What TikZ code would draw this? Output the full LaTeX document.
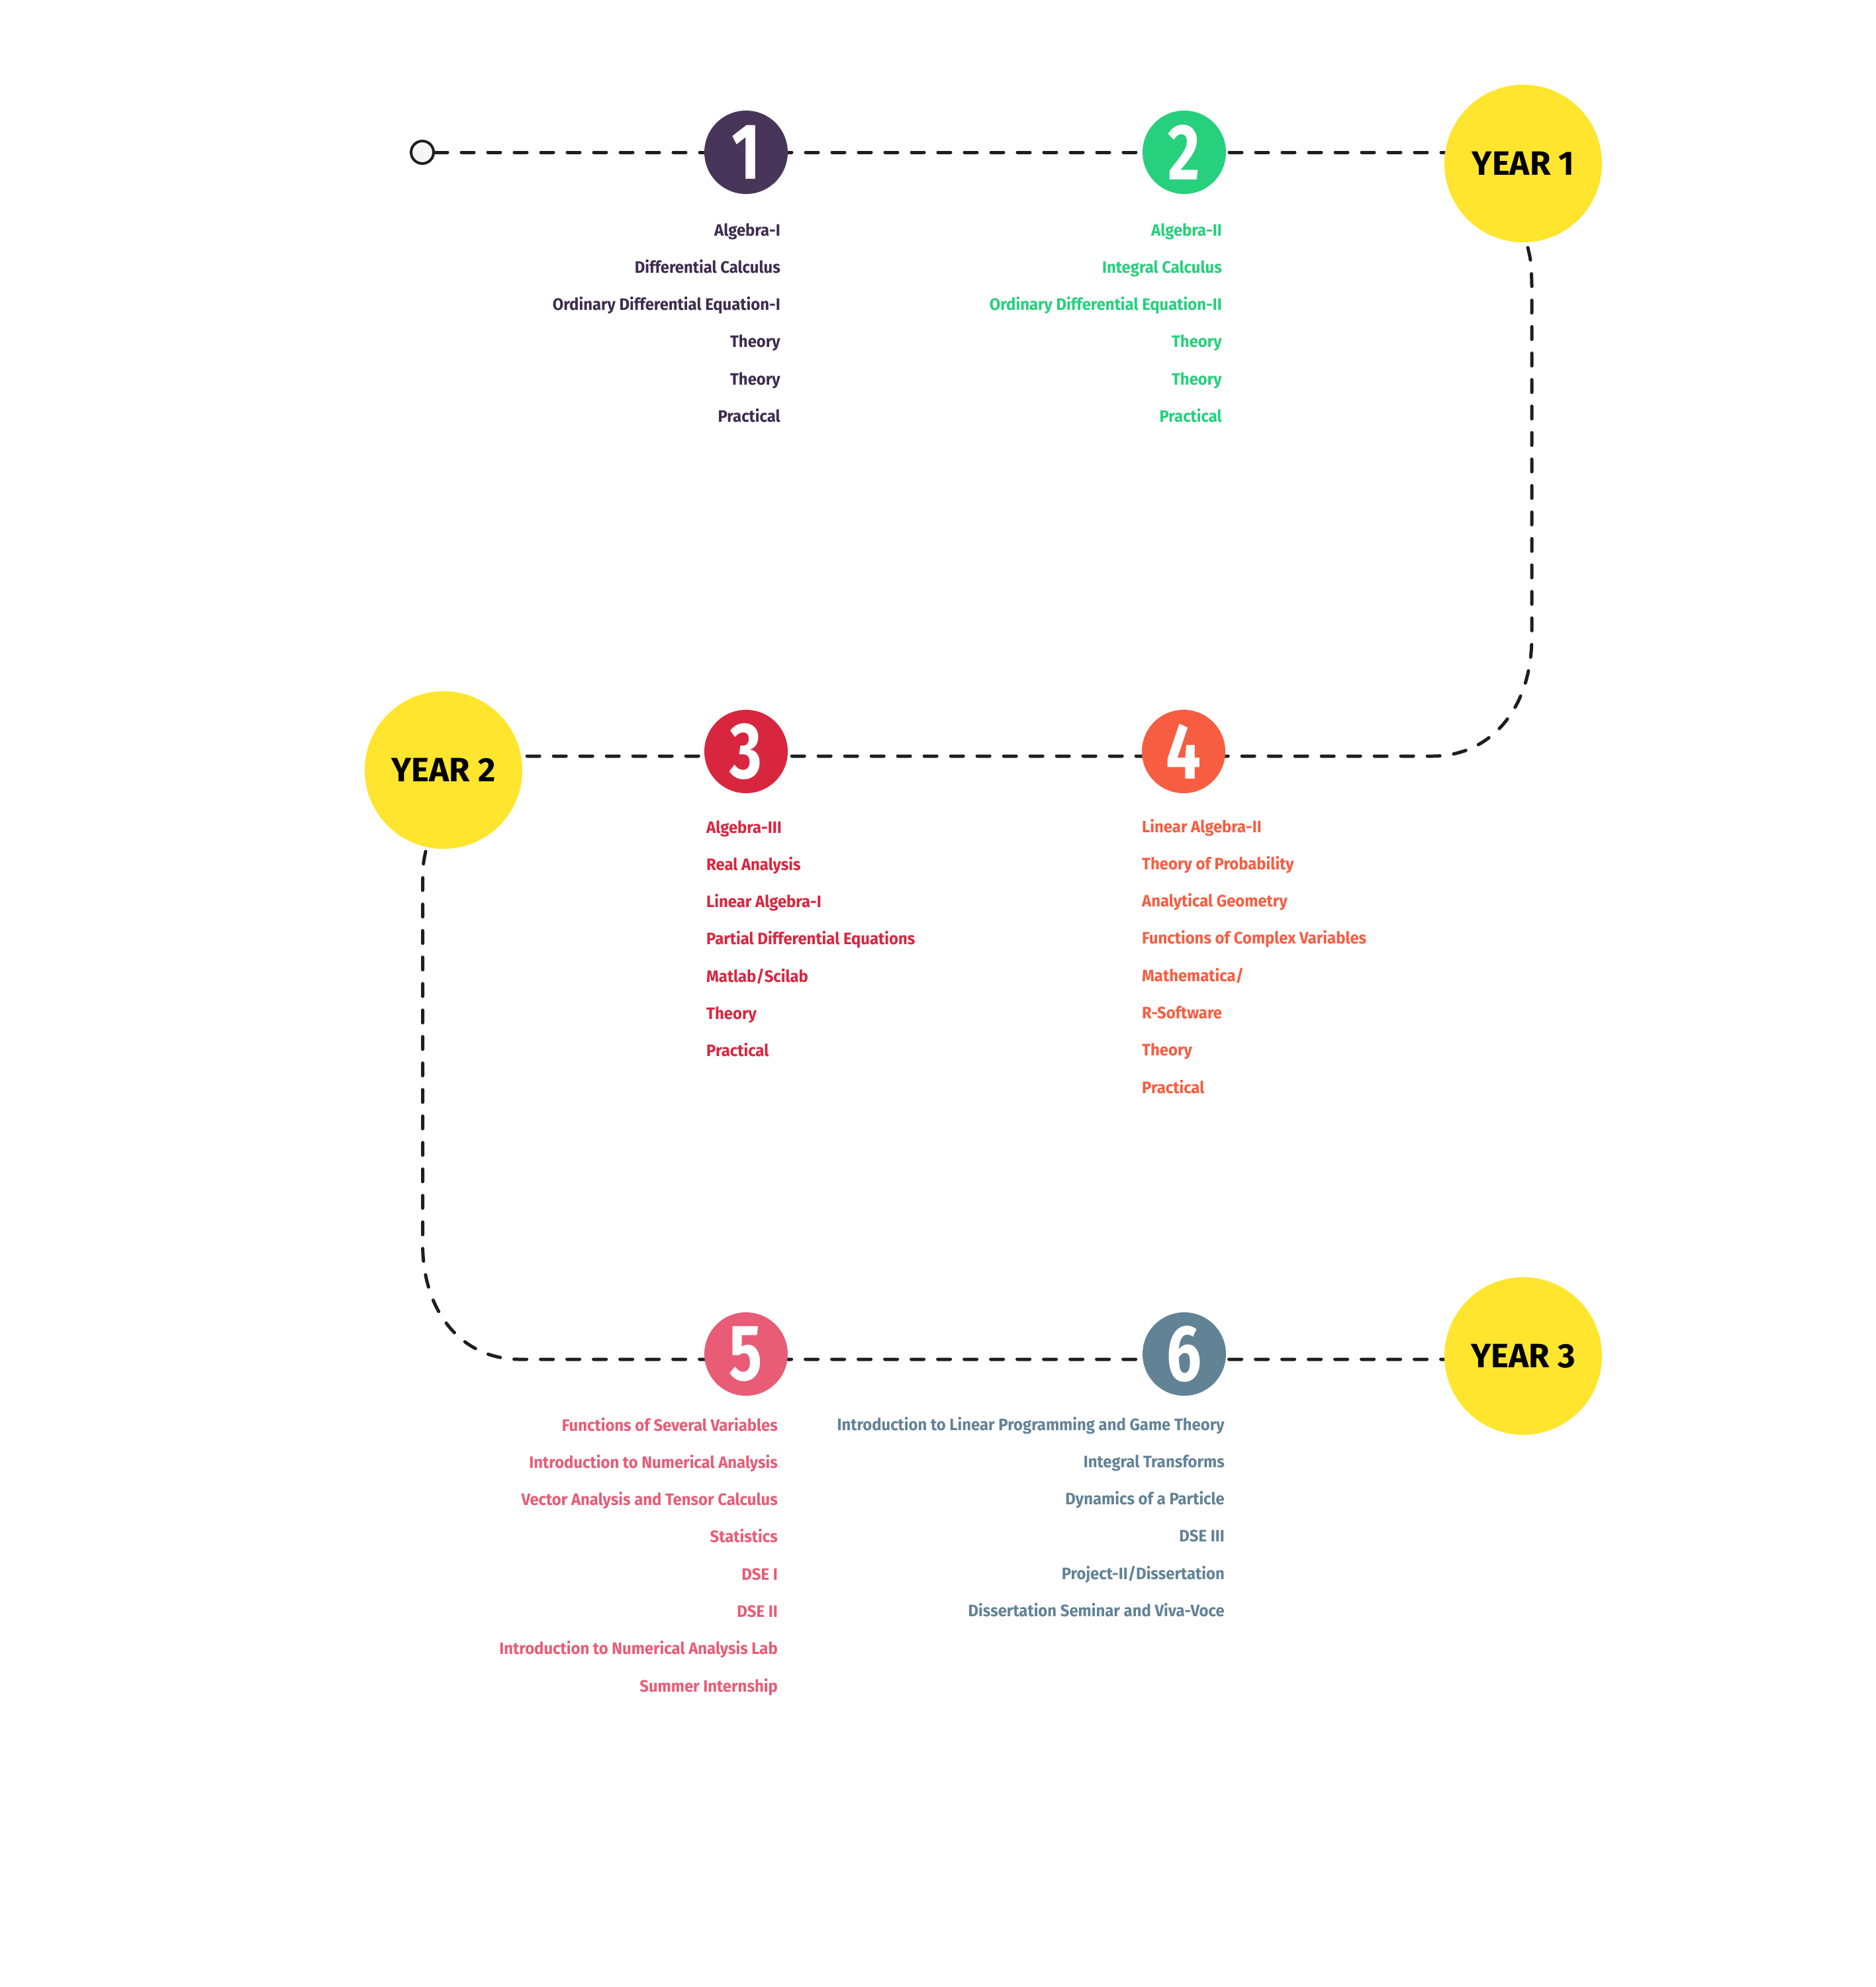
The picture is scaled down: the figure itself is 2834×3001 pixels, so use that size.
\documentclass[tikz,border=0pt]{standalone}
\usepackage{fontspec}
\setmainfont{Fira Sans}
\newfontfamily\itemfont{Fira Sans}[FakeStretch=0.955]
\usepackage{graphicx}
\usetikzlibrary{backgrounds}
\definecolor{cA}{HTML}{48365A}
\definecolor{tA}{HTML}{3E2C4E}
\definecolor{cB}{HTML}{26D07C}
\definecolor{cC}{HTML}{D9263F}
\definecolor{cD}{HTML}{F75D40}
\definecolor{cE}{HTML}{E85C76}
\definecolor{cF}{HTML}{628396}
\definecolor{yel}{HTML}{FFE52D}
\definecolor{ink}{HTML}{1E1E1E}
\tikzset{
  numc/.style={circle, fill=#1, minimum size=126pt, inner sep=0pt, text=white,
    font=\bfseries\fontsize{120}{120}\selectfont},
  yearc/.style={circle, fill=yel, minimum size=238pt, inner sep=0pt, text=black,
    font=\bfseries\fontsize{51}{51}\selectfont},
  item/.style={inner sep=0pt, text=#1, font=\itemfont\bfseries\fontsize{25}{25}\selectfont},
  route/.style={draw=ink, line width=5pt, dash pattern=on 19pt off 21pt, line cap=round},
  startc/.style={circle, draw=ink, line width=4pt, fill=white!96!black, minimum size=34pt, inner sep=0pt},
}
\newcommand{\narrow}[1]{\scalebox{0.78}[1]{#1}}
\begin{document}
\begin{tikzpicture}[x=1pt,y=-1pt]
\useasboundingbox (0,0) rectangle (2834,3001);
% nodes
\node[startc] (st) at (638,230) {};
\node[numc=cA] (n1) at (1127,230) {\narrow{1}};
\node[numc=cB] (n2) at (1789,230) {\narrow{2}};
\node[yearc] (y1) at (2301,247) {YEAR 1};
\node[yearc] (y2) at (670,1163) {YEAR 2};
\node[numc=cC] (n3) at (1127,1135) {\narrow{3}};
\node[numc=cD] (n4) at (1788,1135) {\narrow{4}};
\node[numc=cE] (n5) at (1127,2045) {\narrow{5}};
\node[numc=cF] (n6) at (1789,2045) {\narrow{6}};
\node[yearc] (y3) at (2301,2048) {YEAR 3};
% connector coordinates
\coordinate (v1a) at (2308,374);
\coordinate (y2r) at (788,1142);
\coordinate (v2a) at (643,1286);
\coordinate (y3l) at (2183,2053);
\begin{scope}[on background layer]
\fill[white] (0,0) rectangle (2834,3001);
\draw[route] (st.east) -- (y1.west |- st.east);
\draw[route] (v1a) .. controls (2313,395) .. (2314,430) -- (2314,962)
  .. controls (2314,1070) and (2252,1142) .. (2164,1142) -- (y2r);
\draw[route] (v2a) .. controls (639,1305) .. (638.5,1340) -- (638.5,1879)
  .. controls (638.5,1982) and (698,2053) .. (785,2053) -- (y3l);
\end{scope}
% column texts
\foreach \t [count=\i from 0] in {Algebra-I,Differential Calculus,Ordinary Differential Equation-I,Theory,Theory,Practical}
  \node[item=tA, anchor=base east] (a\i) at (1179,356+56.3*\i) {\t};
\foreach \t [count=\i from 0] in {Algebra-II,Integral Calculus,Ordinary Differential Equation-II,Theory,Theory,Practical}
  \node[item=cB, anchor=base east] (b\i) at (1846,356+56.3*\i) {\t};
\foreach \t [count=\i from 0] in {Algebra-III,Real Analysis,Linear Algebra-I,Partial Differential Equations,Matlab/Scilab,Theory,Practical}
  \node[item=cC, anchor=base west] (c\i) at (1067,1258+56.3*\i) {\t};
\foreach \t [count=\i from 0] in {Linear Algebra-II,Theory of Probability,Analytical Geometry,Functions of Complex Variables,Mathematica/,R-Software,Theory,Practical}
  \node[item=cD, anchor=base west] (d\i) at (1725,1257+56.3*\i) {\t};
\foreach \t [count=\i from 0] in {Functions of Several Variables,Introduction to Numerical Analysis,Vector Analysis and Tensor Calculus,Statistics,DSE I,DSE II,Introduction to Numerical Analysis Lab,Summer Internship}
  \node[item=cE, anchor=base east] (e\i) at (1175,2161+56.3*\i) {\t};
\foreach \t [count=\i from 0] in {Introduction to Linear Programming and Game Theory,Integral Transforms,Dynamics of a Particle,DSE III,Project-II/Dissertation,Dissertation Seminar and Viva-Voce}
  \node[item=cF, anchor=base east] (f\i) at (1850,2160+56.3*\i) {\t};
\end{tikzpicture}
\end{document}
